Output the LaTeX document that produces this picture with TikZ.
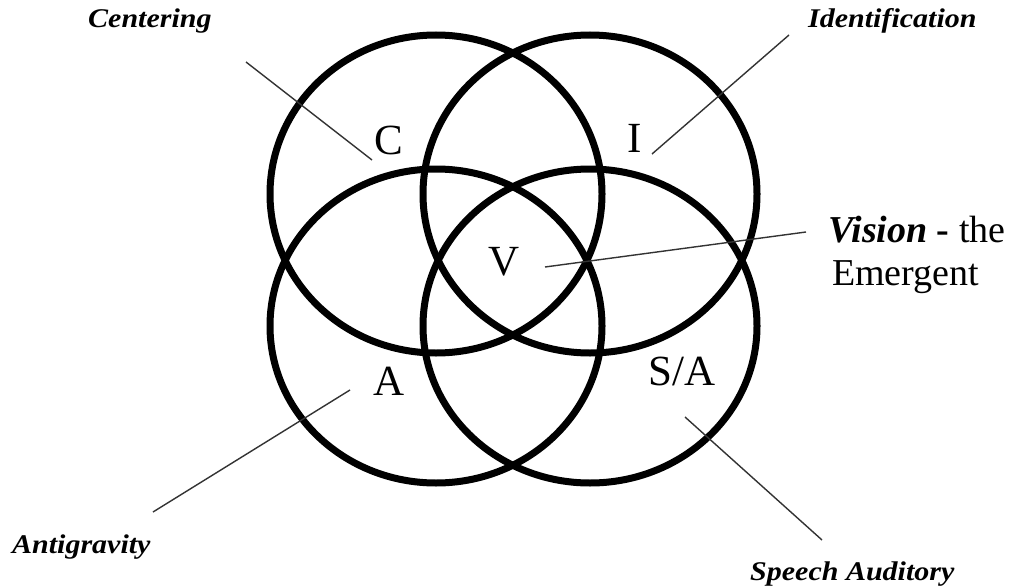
\documentclass[tikz,border=0pt]{standalone}
\usepackage{fontspec}
\setmainfont{Liberation Serif}
\tikzset{
  ring/.style={draw=black, line width=7pt},
  leader/.style={draw=black!80, line width=1.4pt},
  letter/.style={inner sep=0pt, anchor=base, font=\fontsize{43}{48}\selectfont},
  tag/.style={inner sep=0pt, anchor=base west, font=\fontsize{30}{36}\selectfont\bfseries\itshape},
  vis/.style={inner sep=0pt, anchor=base west, font=\fontsize{38}{43}\selectfont},
}
\newcommand{\squash}[1]{\scalebox{1}[0.9]{#1}}
\begin{document}
\begin{tikzpicture}[x=1pt,y=-1pt]
\useasboundingbox (0,0) rectangle (1009,586);
\fill[white] (0,0) rectangle (1009,586);
% circles
\draw[ring] (436,194) ellipse [x radius=166, y radius=159];
\draw[ring] (590,194) ellipse [x radius=167, y radius=159];
\draw[ring] (436,326) ellipse [x radius=166, y radius=157];
\draw[ring] (590,326) ellipse [x radius=167, y radius=157];
% region letters
\node[letter] (C) at (389,154) {C};
\node[letter] (I) at (635,152) {I};
\node[letter] (V) at (504,275) {V};
\node[letter] (A) at (389,395) {A};
\node[letter] (SA) at (682,385) {S/A};
% outer labels
\node[tag] (cent) at (88,28) {\squash{Centering}};
\node[tag] (ident) at (808,28) {\squash{Identification}};
\node[tag] (anti) at (12,553) {\squash{Antigravity}};
\node[tag] (speech) at (750,580) {\squash{Speech Auditory}};
\node[vis] (vision) at (828,242) {\textbf{\textit{Vision}} \textbf{-} the};
\node[vis] (emer) at (832,285) {Emergent};
% leader end points
\coordinate (c1) at (246,62);   \coordinate (c2) at (372,160);
\coordinate (i1) at (789,35);   \coordinate (i2) at (652,154);
\coordinate (v1) at (545,267);  \coordinate (v2) at (806,232);
\coordinate (a1) at (350,390);  \coordinate (a2) at (153,512);
\coordinate (s1) at (685,417);  \coordinate (s2) at (822,540);
\draw[leader] (c1) -- (c2);
\draw[leader] (i1) -- (i2);
\draw[leader] (v1) -- (v2);
\draw[leader] (a1) -- (a2);
\draw[leader] (s1) -- (s2);
\end{tikzpicture}
\end{document}
